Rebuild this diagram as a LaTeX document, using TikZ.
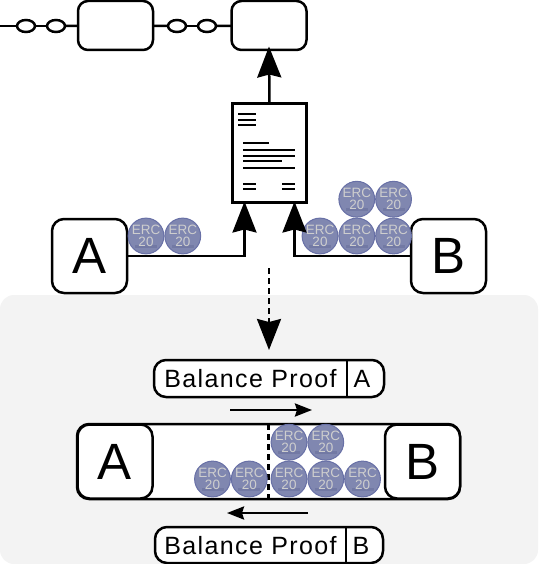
\documentclass[tikz,border=0pt]{standalone}
\usepackage{fontspec}
\setmainfont{Liberation Sans}
\newfontfamily\proofspaced[LetterSpace=5.5]{Liberation Sans}
\usetikzlibrary{shapes.geometric, arrows.meta, positioning, calc}
\definecolor{coincolor}{RGB}{128,135,176}
\definecolor{coinedge}{RGB}{104,112,166}
\definecolor{coinshade}{RGB}{114,121,164}
\definecolor{cointext}{RGB}{206,206,206}
\definecolor{panelcolor}{RGB}{243,243,243}

\begin{document}
\begin{tikzpicture}[
    x=1pt, y=-1pt,
    line width=2.5pt,
    block/.style={rectangle, draw, fill=white, rounded corners=10pt, minimum width=75pt, minimum height=49pt, inner sep=0pt, outer sep=0pt},
    party/.style={rectangle, draw, fill=white, rounded corners=12pt, minimum width=75pt, minimum height=74pt, inner sep=0pt, outer sep=0pt, font=\fontsize{51}{51}\selectfont},
    link/.style={ellipse, draw, fill=white, minimum width=18pt, minimum height=12pt, inner sep=0pt, outer sep=0pt},
    coin/.style={circle, draw=coinedge, line width=1pt, fill=coincolor, text=cointext, minimum size=35pt, inner sep=0pt, align=center, font=\fontsize{13.5}{12}\selectfont,
        path picture={\fill[coinshade] ($(path picture bounding box.center)+(-11,9)$) rectangle ($(path picture bounding box.center)+(11,12)$);}},
    proof/.style={rectangle, draw, fill=white, rounded corners=12pt, minimum height=37pt, inner sep=0pt, outer sep=0pt},
    prooftext/.style={inner sep=0pt, font=\fontsize{25}{25}\selectfont\proofspaced},
    bigarrow/.style={-{Stealth[length=31pt, width=24pt, inset=3pt]}, line join=miter},
    smallarrow/.style={-{Stealth[length=17pt, width=13pt, inset=2pt]}},
    sheetline/.style={line width=2pt}
]

    \useasboundingbox (0,0) rectangle (538,564);

    % Panel
    \fill[panelcolor, rounded corners=14pt] (0,295) rectangle (538,564);

    % Chain
    \coordinate (chainstart) at (0,26);
    \node[block] (blocka) at (115.5,25.5) {};
    \node[block] (blockb) at (269,25.5) {};
    \node[link] (linka) at (26,26) {};
    \node[link] (linkb) at (56,26) {};
    \node[link] (linkc) at (177,26) {};
    \node[link] (linkd) at (207,26) {};
    \draw (chainstart) -- (linka);
    \draw (linka) -- (linkb);
    \draw (linkb) -- (blocka);
    \draw (blocka) -- (linkc);
    \draw (linkc) -- (linkd);
    \draw (linkd) -- (blockb);

    % Document
    \node[rectangle, draw, fill=white, minimum width=74pt, minimum height=99pt, inner sep=0pt, outer sep=0pt] (sheet) at (269.5,153) {};
    \draw[sheetline] (238,114) -- (256,114);
    \draw[sheetline] (238,120) -- (256,120);
    \draw[sheetline] (238,125) -- (256,125);
    \draw[sheetline] (243,143) -- (269,143);
    \draw[sheetline] (243,150) -- (295,150);
    \draw[sheetline] (243,156) -- (295,156);
    \draw[sheetline] (243,161) -- (282,161);
    \draw[sheetline] (243,168) -- (295,168);
    \draw[sheetline] (243,184) -- (256,184);
    \draw[sheetline] (243,189) -- (256,189);
    \draw[sheetline] (282,184) -- (295,184);
    \draw[sheetline] (282,189) -- (295,189);

    % Top parties
    \node[party] (partya) at (89.5,256) {A};
    \node[party] (partyb) at (448.5,256) {B};
    \node[coin] (coina) at (146,236) {ERC\\20};
    \node[coin, right=0pt of coina] (coinb) {ERC\\20};
    \node[coin] (coinc) at (320,236) {ERC\\20};
    \node[coin, right=0pt of coinc] (coind) {ERC\\20};
    \node[coin, right=0pt of coind] (coine) {ERC\\20};
    \node[coin, above=0pt of coind] (coinf) {ERC\\20};
    \node[coin, above=0pt of coine] (coing) {ERC\\20};

    % Arrows
    \draw[bigarrow, shorten >=-3.5pt] (sheet.north) -- (blockb.south);
    \draw[bigarrow] (partya.east) -| ($(sheet.south)+(-25,-1)$);
    \draw[bigarrow] (partyb.west) -| ($(sheet.south)+(25,-1)$);

    % Balance proof A
    \node[proof, minimum width=230pt] (proofa) at (269,378.5) {};
    \node[prooftext] (prooftexta) at (250.5,379) {Balance Proof};
    \node[prooftext] (prooflabela) at (362,379) {A};
    \draw[line width=1.5pt] (347,360) -- (347,397);
    \coordinate (dashstart) at (269,268);
    \draw[bigarrow, dash pattern=on 6pt off 4pt, shorten >=10pt] (dashstart) -- (proofa.north);
    \coordinate (rightstart) at (230,410);
    \coordinate (rightend) at (312,410);
    \draw[smallarrow] (rightstart) -- (rightend);

    % Channel
    \node[rectangle, draw, fill=white, rounded corners=12pt, minimum width=383pt, minimum height=75pt, inner sep=0pt, outer sep=0pt] (channel) at (268.5,461.5) {};
    \node[party] (channela) at (115,461.5) {A};
    \node[party] (channelb) at (422.5,461.5) {B};
    \draw[dash pattern=on 6pt off 4pt] (channel.north) -- (channel.south);
    \node[coin] (coinh) at (212.5,479) {ERC\\20};
    \node[coin, right=0pt of coinh] (coini) {ERC\\20};
    \node[coin] (coinj) at (289,479) {ERC\\20};
    \node[coin, right=0pt of coinj] (coink) {ERC\\20};
    \node[coin, right=0pt of coink] (coinl) {ERC\\20};
    \node[coin, above=0pt of coinj] (coinm) {ERC\\20};
    \node[coin, above=0pt of coink] (coinn) {ERC\\20};

    % Balance proof B
    \coordinate (leftstart) at (308,513);
    \coordinate (leftend) at (227,513);
    \draw[smallarrow] (leftstart) -- (leftend);
    \node[proof, minimum width=228pt, minimum height=36pt] (proofb) at (269,545) {};
    \node[prooftext] (prooftextb) at (250.5,545.5) {Balance Proof};
    \node[prooftext] (prooflabelb) at (361,545.5) {B};
    \draw[line width=1.5pt] (346,527) -- (346,563);

\end{tikzpicture}
\end{document}
